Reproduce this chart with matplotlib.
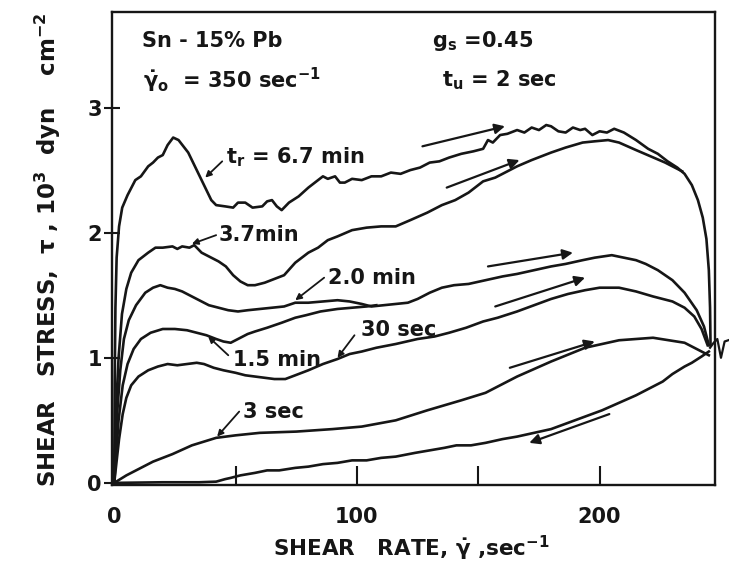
import matplotlib
matplotlib.use("Agg")
import matplotlib.pyplot as plt

plt.rcParams.update({"font.family": "DejaVu Sans", "font.weight": "bold",
                     "mathtext.fontset": "dejavusans", "mathtext.default": "bf"})

INK = "#161616"

# ---- traced curves (shear rate, sec^-1 ; shear stress, 10^3 dyn cm^-2) ----
# t_r = 6.7 min
a_x = [0, 0.2, 0.5, 1, 2, 3.3, 5.5, 8.7, 11, 14, 16, 18, 20, 22, 24.3, 26.5, 30.5, 33, 36,
       40, 42, 45.7, 49, 51, 54, 57, 61, 63, 65, 67, 69, 72, 76, 80, 84, 86, 88, 91, 93, 95,
       98, 102, 106, 110, 114, 118, 122, 126, 130, 134, 138, 143, 148, 152, 154, 156, 159,
       162, 166, 169, 172, 175, 178, 180, 183, 186, 189, 192, 194, 197, 200, 203, 206, 210,
       215, 220, 224, 228, 232, 235, 238, 240.5, 242.5, 244, 245, 245.5, 245.7]
a_y = [0, 0.8, 1.4, 1.8, 2.05, 2.2, 2.3, 2.42, 2.45, 2.53, 2.56, 2.6, 2.62, 2.7, 2.76, 2.74,
       2.64, 2.54, 2.42, 2.26, 2.22, 2.21, 2.2, 2.24, 2.24, 2.2, 2.21, 2.25, 2.26, 2.21, 2.18,
       2.24, 2.29, 2.36, 2.42, 2.45, 2.43, 2.45, 2.4, 2.4, 2.43, 2.42, 2.45, 2.45, 2.48, 2.47,
       2.5, 2.52, 2.56, 2.57, 2.6, 2.63, 2.65, 2.67, 2.74, 2.72, 2.78, 2.79, 2.82, 2.8, 2.84,
       2.82, 2.86, 2.85, 2.81, 2.8, 2.84, 2.82, 2.83, 2.78, 2.81, 2.8, 2.83, 2.8, 2.74, 2.67,
       2.63, 2.57, 2.52, 2.47, 2.38, 2.26, 2.12, 1.95, 1.7, 1.4, 1.1]
# 3.7 min
b_x = [0, 0.8, 1.8, 3.2, 5, 7, 10, 14, 17, 20, 24, 26, 28, 31, 33, 36, 40, 43, 46, 49, 52,
       55, 58, 62, 66, 70, 74.6, 80, 84, 88, 92, 98, 104, 110, 116, 122, 129, 135, 140.5, 146,
       152, 157, 162, 166, 172, 180, 186, 193, 198, 203.5, 208, 215, 221, 227, 234]
b_y = [0, 0.6, 1.0, 1.35, 1.55, 1.68, 1.78, 1.84, 1.88, 1.88, 1.89, 1.87, 1.89, 1.88, 1.9,
       1.84, 1.8, 1.77, 1.73, 1.66, 1.61, 1.58, 1.58, 1.6, 1.63, 1.66, 1.76, 1.84, 1.88, 1.94,
       1.97, 2.02, 2.04, 2.05, 2.05, 2.1, 2.16, 2.22, 2.26, 2.32, 2.41, 2.44, 2.49, 2.53,
       2.58, 2.64, 2.68, 2.72, 2.73, 2.74, 2.72, 2.66, 2.61, 2.56, 2.49]
# 2.0 min
c_x = [0, 1.2, 2.5, 4, 6, 9, 12.8, 16, 19, 22, 25, 28, 31, 35, 39, 43, 47, 51, 55, 60, 65,
       70, 74.6, 80, 86, 92, 97, 102, 106, 111, 116, 121, 125, 130, 135, 140, 146, 153, 160,
       166, 173, 180, 186, 193, 198, 205, 210, 215, 219, 224, 230, 235, 240, 243, 245]
c_y = [0, 0.55, 0.9, 1.15, 1.3, 1.42, 1.52, 1.56, 1.58, 1.56, 1.55, 1.53, 1.5, 1.46, 1.42,
       1.4, 1.38, 1.37, 1.38, 1.39, 1.4, 1.41, 1.44, 1.44, 1.45, 1.46, 1.45, 1.43, 1.41, 1.42,
       1.43, 1.44, 1.47, 1.52, 1.56, 1.58, 1.59, 1.62, 1.65, 1.67, 1.7, 1.73, 1.75, 1.78, 1.8,
       1.82, 1.8, 1.78, 1.75, 1.7, 1.62, 1.52, 1.38, 1.25, 1.1]
# 1.5 min (joins the 2.0 min trace near 105 sec^-1)
d_x = [0, 1.8, 3.5, 5.5, 8, 11, 15, 20, 25, 30, 34, 38, 42, 45, 48, 51, 55, 58, 63, 69,
       74.6, 79, 85, 92, 98, 104, 108]
d_y = [0, 0.5, 0.78, 0.95, 1.07, 1.15, 1.2, 1.23, 1.23, 1.22, 1.2, 1.18, 1.15, 1.13, 1.12,
       1.15, 1.19, 1.21, 1.24, 1.28, 1.32, 1.34, 1.37, 1.39, 1.4, 1.41, 1.42]
# 30 sec
e_x = [0, 2, 3.5, 5, 7, 10, 14, 18, 22, 26, 30, 34, 37, 41, 45, 50, 54, 58, 62, 66, 70.5,
       74.6, 80, 86, 92, 97, 102, 108, 116, 125, 132, 138, 145, 152, 158, 166, 173, 180, 187,
       194, 200, 208, 215, 222, 230, 235, 239, 242, 244.5]
e_y = [0, 0.35, 0.55, 0.68, 0.78, 0.85, 0.9, 0.93, 0.95, 0.94, 0.95, 0.96, 0.95, 0.92, 0.9,
       0.88, 0.86, 0.85, 0.84, 0.83, 0.83, 0.86, 0.9, 0.95, 0.99, 1.03, 1.05, 1.08, 1.11,
       1.15, 1.17, 1.2, 1.24, 1.29, 1.32, 1.37, 1.42, 1.47, 1.51, 1.54, 1.56, 1.56, 1.53,
       1.49, 1.45, 1.4, 1.33, 1.23, 1.1]
# 3 sec
f_x = [0, 5, 10, 16, 24, 32, 42, 50, 60, 75, 90, 102, 116, 129, 143, 153, 166, 180, 194,
       208, 222, 235, 242, 245]
f_y = [0, 0.06, 0.11, 0.17, 0.23, 0.3, 0.36, 0.38, 0.4, 0.41, 0.43, 0.45, 0.5, 0.58, 0.66,
       0.72, 0.85, 0.97, 1.08, 1.14, 1.16, 1.12, 1.05, 1.02]
# common return (decreasing rate) branch
g_x = [245, 242, 238, 235, 230, 226, 222, 215, 208, 201, 194, 187, 180, 173, 166, 160, 153,
       147, 141, 136, 130, 124, 116, 110, 104, 98, 92, 86, 80, 74.6, 68, 63, 58, 52, 48,
       45.7, 42, 35, 20, 0]
g_y = [1.05, 1.01, 0.96, 0.93, 0.87, 0.81, 0.77, 0.7, 0.64, 0.58, 0.53, 0.48, 0.43, 0.4,
       0.37, 0.35, 0.32, 0.3, 0.3, 0.28, 0.26, 0.24, 0.21, 0.2, 0.18, 0.18, 0.16, 0.15, 0.13,
       0.12, 0.1, 0.1, 0.08, 0.06, 0.04, 0.03, 0.01, 0.005, 0.005, 0]
# little kink beyond the frame at the turning point
k_x = [245.5, 247, 248.5, 250, 251.5, 253]
k_y = [1.08, 1.12, 1.15, 1.0, 1.13, 1.14]

# curve labels: text, text position, leader start, leader end
labels = [(r"t$_r$ = 6.7 min", (46, 2.60), (44.5, 2.57), (37.5, 2.44)),
          ("3.7min", (43, 1.98), (42, 1.98), (32, 1.91)),
          ("2.0 min", (88, 1.64), (86.5, 1.64), (74.6, 1.46)),
          ("30 sec", (101.5, 1.22), (99, 1.18), (92, 1.0)),
          ("1.5 min", (49, 0.98), (47, 1.02), (38.7, 1.17)),
          ("3 sec", (53, 0.57), (51.5, 0.57), (42.4, 0.37))]

# direction arrows (tail, head)
arrows = [((127, 2.69), (161, 2.85)), ((137, 2.36), (167, 2.58)),
          ((154, 1.73), (189, 1.84)), ((157, 1.41), (194, 1.64)),
          ((163, 0.92), (198, 1.13)), ((204, 0.55), (171, 0.32))]

fig = plt.figure(figsize=(7.29, 5.65), dpi=100)
ax = fig.add_axes([0.154, 0.142, 0.827, 0.836])

for xs, ys in [(a_x, a_y), (b_x, b_y), (c_x, c_y), (d_x, d_y), (e_x, e_y), (f_x, f_y), (g_x, g_y)]:
    ax.plot(xs, ys, color=INK, lw=1.9, solid_joinstyle="round")
ax.plot(k_x, k_y, color=INK, lw=1.6, clip_on=False)

for txt, tp, s, e in labels:
    ax.text(tp[0], tp[1], txt, fontsize=15, ha="left", va="center", color=INK)
    ax.annotate("", xy=e, xytext=s,
                arrowprops=dict(arrowstyle="-|>", color=INK, lw=1.3, mutation_scale=9,
                                shrinkA=0, shrinkB=0))

for s, e in arrows:
    ax.annotate("", xy=e, xytext=s,
                arrowprops=dict(arrowstyle="-|>", color=INK, lw=1.6, mutation_scale=15,
                                shrinkA=0, shrinkB=0))

ax.text(11.5, 3.53, "Sn - 15% Pb", fontsize=15, va="center", color=INK)
ax.text(12, 3.22, r"$\dot{\gamma}_o$  = 350 sec$^{-1}$", fontsize=15, va="center", color=INK)
ax.text(131, 3.53, r"g$_s$ =0.45", fontsize=15, va="center", color=INK)
ax.text(135, 3.22, r"t$_u$ = 2 sec", fontsize=15, va="center", color=INK)

ax.set_xlim(-0.8, 247.6)
ax.set_ylim(-0.015, 3.76)
ax.set_xticks([0, 100, 200])
ax.set_xticks([50, 150], minor=True)
ax.set_yticks([0, 1, 2, 3])
ax.tick_params(axis="x", which="both", direction="in", length=14, width=1.5, pad=16,
               labelsize=15, colors=INK)
ax.tick_params(axis="y", direction="inout", length=11, width=1.5, pad=2,
               labelsize=15, colors=INK)
for sp in ax.spines.values():
    sp.set_linewidth(1.7)
    sp.set_color(INK)

fig.text(0.564, 0.030, r"SHEAR   RATE, $\dot{\gamma}$ ,sec$^{-1}$", fontsize=15.5,
         ha="center", va="center", color=INK)
fig.text(0.066, 0.558, r"SHEAR   STRESS,  $\tau$ , 10$^3$  dyn    cm$^{-2}$", fontsize=16.5,
         rotation=90, ha="center", va="center", color=INK)

fig.savefig("out.png", dpi=100)
